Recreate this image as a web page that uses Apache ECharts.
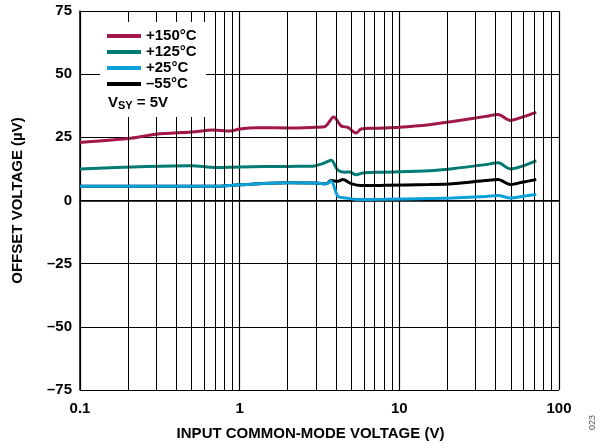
<!DOCTYPE html>
<html><head><meta charset="utf-8">
<script src="https://cdn.jsdelivr.net/npm/echarts@6/dist/echarts.min.js"></script>
<style>html,body{margin:0;padding:0;background:#fff}#c{width:600px;height:446px}</style>
</head><body><div id="c"></div>
<script>
const seriesNames = ['+150°C', '+125°C', '+25°C', '\u201355°C'];
const colors = ['#A3164B', '#007B73', '#0AA0D8', '#000000'];

const x150 = [0.1, 0.2, 0.3, 0.5, 0.68, 0.87, 1.0, 1.28, 2.05, 3.0, 3.4, 3.88, 4.32, 4.76, 5.37, 5.76, 7, 10, 15.4, 21.5, 34.8, 41.5, 49.6, 58.8, 72];
const y150 = [23, 24.5, 26.2, 27.1, 27.9, 27.5, 28.3, 28.8, 28.7, 29.0, 29.2, 33, 29.5, 28.9, 26.7, 28.3, 28.6, 29, 30, 31.3, 33.3, 34, 31.7, 33, 34.9];

const x125 = [0.1, 0.5, 0.7, 1, 2.05, 2.87, 3.31, 3.74, 4.12, 4.53, 4.87, 5.37, 5.9, 8, 15.4, 21.5, 34.8, 41.5, 49.6, 58.8, 72];
const y125 = [12.5, 13.8, 13.1, 13.3, 13.5, 13.6, 14.6, 15.9, 12.0, 11.2, 11.3, 10.2, 10.9, 11.2, 11.8, 12.6, 14.2, 14.9, 12.5, 13.6, 15.8];

const x25 = [0.1, 0.7, 1, 2.05, 3.0, 3.49, 3.74, 4.12, 4.64, 5.37, 8, 15.4, 21.5, 34.8, 41.5, 49.6, 58.8, 72];
const y25 = [5.6, 5.6, 6.2, 7.0, 6.9, 6.6, 7.6, 1.7, 1.0, 0.4, 0.5, 0.8, 1.0, 1.6, 2.0, 1.0, 1.6, 2.4];

const xm55 = [0.1, 0.7, 1, 2.05, 3.0, 3.49, 3.74, 4.12, 4.43, 4.99, 5.76, 8, 15.4, 21.5, 34.8, 41.5, 49.6, 58.8, 72];
const ym55 = [5.6, 5.6, 6.2, 7.0, 6.9, 6.6, 7.9, 7.6, 8.3, 6.7, 5.9, 6.0, 6.3, 6.6, 7.9, 8.3, 6.3, 7.2, 8.3];

const minorGridX = [0.2,0.3,0.4,0.5,0.6,0.7,0.8,0.9, 2,3,4,5,6,7,8,9, 20,30,40,50,60,70,80,90];
const xTickLabels = ['0.1', '1', '10', '100'];

const font = '"Liberation Sans", Arial, sans-serif';
const zip = (xs, ys) => xs.map((x, i) => [x, ys[i]]);
const allX = [x150, x125, x25, xm55];
const allY = [y150, y125, y25, ym55];
const zs = [3, 3, 5, 4];

const series = seriesNames.map((n, i) => ({
  name: n, type: 'line', data: zip(allX[i], allY[i]), showSymbol: false, smooth: 0.3,
  lineStyle: { color: colors[i], width: 3 }, itemStyle: { color: colors[i] }, z: zs[i]
}));
series.push({
  type: 'line', data: [], silent: true, z: 1,
  markLine: { silent: true, symbol: 'none', label: { show: false },
    lineStyle: { color: '#000', width: 1, type: 'solid' },
    data: minorGridX.map(v => ({ xAxis: v })) }
});

const chart = echarts.init(document.getElementById('c'));
chart.setOption({
  animation: false,
  grid: { left: 80, right: 41, top: 11, bottom: 54 },
  xAxis: {
    type: 'log', logBase: 10, min: 0.1, max: 100,
    name: 'INPUT COMMON-MODE VOLTAGE (V)', nameLocation: 'middle', nameGap: 36,
    nameTextStyle: { fontFamily: font, fontWeight: 'bold', fontSize: 15, color: '#000', padding: [0, 18, 0, 0] },
    axisLine: { lineStyle: { color: '#000', width: 1.5 } },
    axisTick: { show: false },
    axisLabel: { fontFamily: font, fontWeight: 'bold', fontSize: 15, color: '#000', margin: 11,
      formatter: v => { const s = String(+v.toPrecision(3)); return xTickLabels.includes(s) ? s : ''; } },
    splitLine: { show: true, lineStyle: { color: '#000', width: 1.2 } }
  },
  yAxis: {
    type: 'value', min: -75, max: 75, interval: 25,
    name: 'OFFSET VOLTAGE (µV)', nameLocation: 'middle', nameGap: 55,
    nameTextStyle: { fontFamily: font, fontWeight: 'bold', fontSize: 15, color: '#000' },
    axisLine: { show: true, lineStyle: { color: '#000', width: 1.5 } },
    axisTick: { show: false },
    axisLabel: { fontFamily: font, fontWeight: 'bold', fontSize: 15, color: '#000', margin: 8,
      formatter: v => String(v).replace('-', '\u2013') },
    splitLine: { show: true, lineStyle: { color: '#000', width: 1 } }
  },
  legend: {
    orient: 'vertical', left: 107, top: 28, padding: 0, itemGap: 0,
    itemWidth: 34, itemHeight: 4, icon: 'rect', z: 10,
    textStyle: { fontFamily: font, fontWeight: 'bold', fontSize: 15, color: '#000', lineHeight: 16 },
    data: seriesNames
  },
  graphic: [
    { type: 'rect', shape: { x: 100, y: 22, width: 106, height: 95 }, style: { fill: '#fff' }, z: 8 },
    { type: 'text', x: 108, y: 94, z: 9, style: {
      text: '{a|V}{b|SY}{a| = 5V}', rich: {
        a: { fontFamily: font, fontWeight: 'bold', fontSize: 15, fill: '#000' },
        b: { fontFamily: font, fontWeight: 'bold', fontSize: 11, fill: '#000', padding: [6, 0, 0, 0] }
      } } },
    { type: 'text', x: 588, y: 430, rotation: Math.PI / 2, z: 9,
      style: { text: '023', fontFamily: font, fontSize: 9, fill: '#555' } }
  ],
  series: series
});
</script></body></html>
